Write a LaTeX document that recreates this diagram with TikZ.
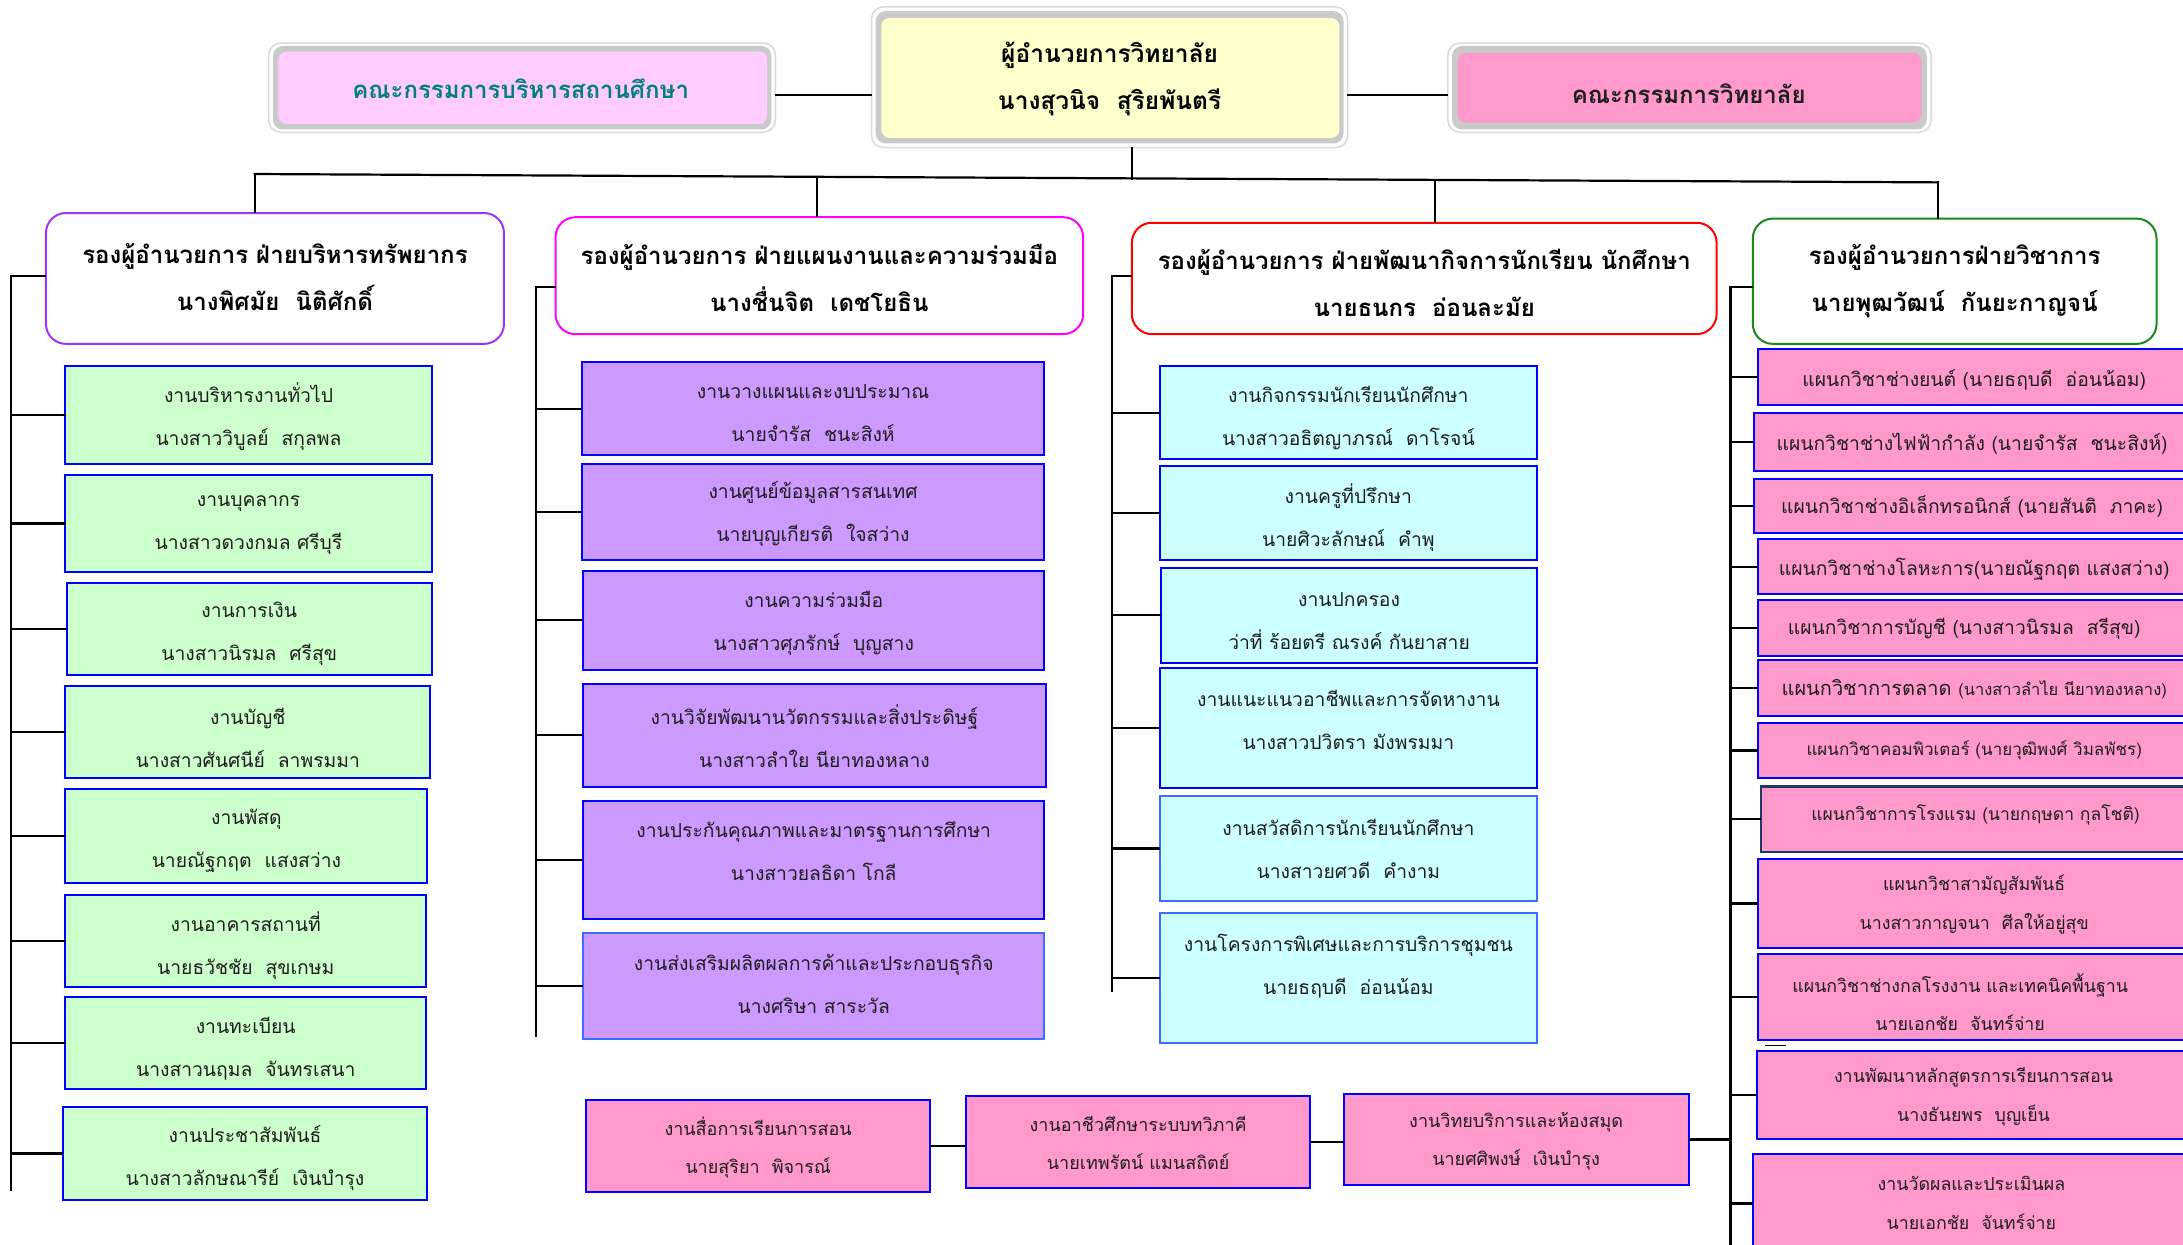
\documentclass[tikz,border=0pt]{standalone}
\usepackage{fontspec}
\setmainfont[Script=Thai]{Loma}
\usetikzlibrary{fit,calc}
\definecolor{gfill}{HTML}{CCFFCC}
\definecolor{pfill}{HTML}{CC99FF}
\definecolor{cfill}{HTML}{CCFFFF}
\definecolor{kfill}{HTML}{FF99CC}
\definecolor{lfill}{HTML}{FFCCFF}
\definecolor{yfill}{HTML}{FFFFCC}
\definecolor{bbord}{HTML}{0000FF}
\definecolor{lbord}{HTML}{3D6DFF}
\definecolor{nbord}{HTML}{1F3864}
\definecolor{vpa}{HTML}{9933FF}
\definecolor{vpb}{HTML}{FF00FF}
\definecolor{vpc}{HTML}{FF0000}
\definecolor{vpd}{HTML}{1A8A1A}
\definecolor{tealc}{HTML}{007F7F}
\definecolor{bandg}{HTML}{CACACA}
\definecolor{edgeg}{HTML}{DADADA}
\definecolor{inkc}{HTML}{1E1E1E}
\newcommand\ubox[9][]{%
  \node[#3, fit={(#4,#5) (#6,#7)}, inner sep=0pt] (#2) {};
  \node[boxtext, #1] (#2t) at ({(#4+#6)/2},#8) {#9};
}
\tikzset{
  boxtext/.style={align=center, text=inkc, inner sep=0pt, font=\fontsize{19.3}{43}\selectfont},
  onetext/.style={font=\fontsize{19.3}{40}\selectfont},
  twotext/.style={font=\fontsize{17.8}{39}\selectfont},
  bottext/.style={font=\fontsize{18}{38}\selectfont},
  gbox/.style={draw=bbord, fill=gfill, line width=2pt},
  pbox/.style={draw=bbord, fill=pfill, line width=2pt},
  plbox/.style={draw=lbord, fill=pfill, line width=2pt},
  cbox/.style={draw=bbord, fill=cfill, line width=2pt},
  clbox/.style={draw=lbord, fill=cfill, line width=2pt},
  kbox/.style={draw=bbord, fill=kfill, line width=2pt},
  knbox/.style={draw=nbord, fill=kfill, line width=2.6pt},
  vpbox/.style={fill=white, line width=2pt, rounded corners=20pt},
  vptext/.style={align=center, text=black, inner sep=0pt, font=\bfseries\fontsize{24}{47}\selectfont},
  frameout/.style={draw=edgeg, line width=1.5pt, fill=white, rounded corners=12pt},
  frameband/.style={fill=bandg, rounded corners=10pt},
  link/.style={line width=2.2pt, line cap=rect},
}
\begin{document}
\begin{tikzpicture}[x=1.3922pt, y=-1.3922pt]
\fill[white] (0,0) rectangle (1568,894);
\useasboundingbox (0,0) rectangle (1568,894);

% ---------- top row ----------
\node[frameout, fit={(193,31) (557,95)}, inner sep=0pt] (clO) {};
\node[frameband, fit={(196,33) (554,93)}, inner sep=0pt] (clB) {};
\node[fill=lfill, rounded corners=8pt, fit={(200,37) (551,89)}, inner sep=0pt] (cl) {};
\node[vptext, text=tealc] (clt) at (374,64) {คณะกรรมการบริหารสถานศึกษา};

\node[frameout, fit={(626,5) (968,106)}, inner sep=0pt] (dirO) {};
\node[frameband, fit={(629,8) (965,103)}, inner sep=0pt] (dirB) {};
\node[fill=yfill, rounded corners=8pt, fit={(633,13) (962,99)}, inner sep=0pt] (dir) {};
\node[vptext, font=\bfseries\fontsize{24.5}{47}\selectfont] (dirt) at (797,57) {ผู้อำนวยการวิทยาลัย\\นางสุวนิจ~~สุริยพันตรี};

\node[frameout, fit={(1040,31) (1387,95)}, inner sep=0pt] (crO) {};
\node[frameband, fit={(1043,33) (1384,93)}, inner sep=0pt] (crB) {};
\node[fill=kfill, rounded corners=8pt, fit={(1047,38) (1380,88)}, inner sep=0pt] (cr) {};
\node[vptext, text=inkc] (crt) at (1213,67) {คณะกรรมการวิทยาลัย};

% ---------- vice directors ----------
\node[vpbox, draw=vpa, fit={(33,153) (362,247)}, inner sep=0pt] (vp1) {};
\node[vptext] (vp1t) at (197.5,199) {รองผู้อำนวยการ ฝ่ายบริหารทรัพยากร\\นางพิศมัย~~นิติศักดิ์};
\node[vpbox, draw=vpb, fit={(399,156) (778,240)}, inner sep=0pt] (vp2) {};
\node[vptext] (vp2t) at (588.5,200) {รองผู้อำนวยการ ฝ่ายแผนงานและความร่วมมือ\\นางชื่นจิต~~เดชโยธิน};
\node[vpbox, draw=vpc, fit={(813,160) (1233,240)}, inner sep=0pt] (vp3) {};
\node[vptext] (vp3t) at (1023,203) {รองผู้อำนวยการ ฝ่ายพัฒนากิจการนักเรียน นักศึกษา\\นายธนกร~~อ่อนละมัย};
\node[vpbox, draw=vpd, fit={(1259,157) (1549,247)}, inner sep=0pt] (vp4) {};
\node[vptext] (vp4t) at (1404,202) {รองผู้อำนวยการฝ่ายวิชาการ\\นายพุฒวัฒน์~~กันยะกาญจน์};

% ---------- column 1 ----------
\ubox{g1}{gbox}{47}{263}{310}{333}{299.5}{งานบริหารงานทั่วไป\\นางสาววิบูลย์~~สกุลพล}
\ubox{g2}{gbox}{47}{341}{310}{411}{377.5}{งานบุคลากร\\นางสาวดวงกมล ศรีบุรี}
\ubox{g3}{gbox}{48}{419}{310}{485}{455.5}{งานการเงิน\\นางสาวนิรมล~~ศรีสุข}
\ubox{g4}{gbox}{47}{493}{309}{559}{530}{งานบัญชี\\นางสาวศันศนีย์~~ลาพรมมา}
\ubox{g5}{gbox}{47}{567}{307}{634}{604}{งานพัสดุ\\นายณัฐกฤต~~แสงสว่าง}
\ubox{g6}{gbox}{47}{643}{306}{709}{679.5}{งานอาคารสถานที่\\นายธวัชชัย~~สุขเกษม}
\ubox{g7}{gbox}{47}{716}{306}{782}{753}{งานทะเบียน\\นางสาวนฤมล~~จันทรเสนา}
\ubox{g8}{gbox}{45}{795}{307}{862}{831.5}{งานประชาสัมพันธ์\\นางสาวลักษณารีย์~~เงินบำรุง}

% ---------- column 2 ----------
\ubox{p1}{pbox}{418}{260}{750}{327}{297}{งานวางแผนและงบประมาณ\\นายจำรัส~~ชนะสิงห์}
\ubox{p2}{pbox}{418}{333}{750}{402}{369}{งานศูนย์ข้อมูลสารสนเทศ\\นายบุญเกียรติ~~ใจสว่าง}
\ubox{p3}{pbox}{419}{410}{750}{481}{447.5}{งานความร่วมมือ\\นางสาวศุภรักษ์~~บุญสาง}
\ubox{p4}{pbox}{419}{491}{751}{565}{528.5}{งานวิจัยพัฒนานวัตกรรมและสิ่งประดิษฐ์\\นางสาวลำใย นียาทองหลาง}
\ubox{p5}{pbox}{419}{575}{750}{660}{611}{งานประกันคุณภาพและมาตรฐานการศึกษา\\นางสาวยลธิดา โกลี}
\ubox{p6}{plbox}{419}{670}{750}{746}{707}{งานส่งเสริมผลิตผลการค้าและประกอบธุรกิจ\\นางศริษา สาระวัล}

% ---------- column 3 ----------
\ubox{c1}{cbox}{833}{263}{1104}{330}{300}{งานกิจกรรมนักเรียนนักศึกษา\\นางสาวอธิตญาภรณ์~~ดาโรจน์}
\ubox{c2}{cbox}{833}{335}{1104}{402}{371.5}{งานครูที่ปรึกษา\\นายศิวะลักษณ์~~คำพุ}
\ubox{c3}{cbox}{834}{408}{1104}{476}{446}{งานปกครอง\\ว่าที่ ร้อยตรี ณรงค์ กันยาสาย}
\ubox{c4}{cbox}{833}{480}{1104}{566}{517}{งานแนะแนวอาชีพและการจัดหางาน\\นางสาวปวิตรา มังพรมมา}
\ubox{c5}{clbox}{833}{572}{1104}{647}{610}{งานสวัสดิการนักเรียนนักศึกษา\\นางสาวยศวดี~~คำงาม}
\ubox{c6}{clbox}{833}{656}{1104}{749}{694}{งานโครงการพิเศษและการบริการชุมชน\\นายธฤบดี~~อ่อนน้อม}

% ---------- column 4 ----------
\ubox[onetext]{k1}{kbox}{1263}{251}{1573}{291}{273}{แผนกวิชาช่างยนต์ (นายธฤบดี~~อ่อนน้อม)}
\ubox[onetext]{k2}{kbox}{1260}{297}{1573}{338}{319}{แผนกวิชาช่างไฟฟ้ากำลัง (นายจำรัส~~ชนะสิงห์)}
\ubox[onetext]{k3}{kbox}{1260}{344}{1573}{383}{364}{แผนกวิชาช่างอิเล็กทรอนิกส์ (นายสันติ~~ภาคะ)}
\ubox[onetext]{k4}{kbox}{1263}{387}{1573}{427}{409}{แผนกวิชาช่างโลหะการ(นายณัฐกฤต แสงสว่าง)}
\ubox[onetext, xshift=-10pt]{k5}{kbox}{1263}{431}{1573}{471}{452}{แผนกวิชาการบัญชี (นางสาวนิรมล~~สรีสุข)}
\ubox[font=\fontsize{20}{40}\selectfont]{k6}{kbox}{1263}{474}{1573}{514}{495}{แผนกวิชาการตลาด {\fontsize{16.5}{34}\selectfont(นางสาวลำไย นียาทองหลาง)}}
\ubox[font=\fontsize{17}{36}\selectfont]{k7}{kbox}{1263}{519}{1573}{559}{539}{แผนกวิชาคอมพิวเตอร์ (นายวุฒิพงศ์ วิมลพัชร)}
\ubox[font=\fontsize{17.5}{36}\selectfont]{k8}{knbox}{1265}{565}{1573}{612}{585}{แผนกวิชาการโรงแรม (นายกฤษดา กุลโชติ)}
\ubox[twotext]{k9}{kbox}{1263}{617}{1573}{681}{650}{แผนกวิชาสามัญสัมพันธ์\\นางสาวกาญจนา~~ศีลให้อยู่สุข}
\ubox[twotext, font=\fontsize{17.8}{38}\selectfont, xshift=-14pt]{k10}{kbox}{1263}{685}{1573}{747}{719.5}{แผนกวิชาช่างกลโรงงาน และเทคนิคพื้นฐาน\\นายเอกชัย~~จันทร์จ่าย}
\ubox[twotext]{k11}{kbox}{1262}{755}{1573}{818}{788}{งานพัฒนาหลักสูตรการเรียนการสอน\\นางธันยพร~~บุญเย็น}
\ubox[twotext]{k12}{kbox}{1259}{829}{1573}{900}{864}{งานวัดผลและประเมินผล\\นายเอกชัย~~จันทร์จ่าย}

% ---------- bottom row ----------
\ubox[bottext]{a}{kbox}{421}{790}{668}{856}{824.5}{งานสื่อการเรียนการสอน\\นายสุริยา~~พิจารณ์}
\ubox[bottext]{b}{kbox}{694}{787}{941}{853}{821}{งานอาชีวศึกษาระบบทวิภาคี\\นายเทพรัตน์ แมนสถิตย์}
\ubox[bottext]{c}{kbox}{965}{786}{1213}{851}{819.5}{งานวิทยบริการและห้องสมุด\\นายศศิพงษ์~~เงินบำรุง}

% ---------- connectors ----------
\draw[link] ([yshift=-7pt]clO.east) -- ([yshift=-7pt]clO.east -| dirO.west);
\draw[link] ([yshift=-7pt]crO.west) -- ([yshift=-7pt]crO.west -| dirO.east);

\coordinate (busL) at (183,125);
\coordinate (busR) at (1392,131);
\coordinate (j2) at (587,127.2);
\coordinate (jd) at (813,128.3);
\coordinate (j3) at (1031,129.3);
\draw[link] (busL) -- (busR);
\draw[link] (dirO.south -| jd) -- (jd);
\draw[link] (busL) -- (busL |- vp1.north);
\draw[link] (j2) -- (j2 |- vp2.north);
\draw[link] (j3) -- (j3 |- vp3.north);
\draw[link] (busR) -- (busR |- vp4.north);

\coordinate (b1t) at (8,198);   \coordinate (b1b) at (8,855);
\coordinate (b2t) at (385,206); \coordinate (b2b) at (385,744);
\coordinate (b3t) at (799,198); \coordinate (b3b) at (799,712);
\coordinate (b4t) at (1243,206);\coordinate (b4b) at (1243,896);
\draw[link] (vp1.west |- b1t) -- (b1t) -- (b1b);
\draw[link] (vp2.west |- b2t) -- (b2t) -- (b2b);
\draw[link] (vp3.west |- b3t) -- (b3t) -- (b3b);
\draw[link] (vp4.west |- b4t) -- (b4t) -- (b4b);
\foreach \n in {g1,g2,g3,g4,g5,g6,g7,g8} \draw[link] (b1t |- \n.west) -- (\n.west);
\foreach \n in {p1,p2,p3,p4,p5,p6} \draw[link] (b2t |- \n.west) -- (\n.west);
\foreach \n in {c1,c2,c3,c4,c5,c6} \draw[link] (b3t |- \n.west) -- (\n.west);
\foreach \n in {k1,k2,k3,k4,k5,k6,k7,k8,k9,k10,k11,k12} \draw[link] (b4t |- \n.west) -- (\n.west);

\draw[link] (a.east) -- (a.east -| b.west);
\draw[link] (b.east) -- (b.east -| c.west);
\draw[link] (c.east) -- (c.east -| b4t);

\coordinate (s1) at (1268,751);
\coordinate (s2) at (1283,751);
\draw[line width=1.8pt] (s1) -- (s2);
\end{tikzpicture}
\end{document}
